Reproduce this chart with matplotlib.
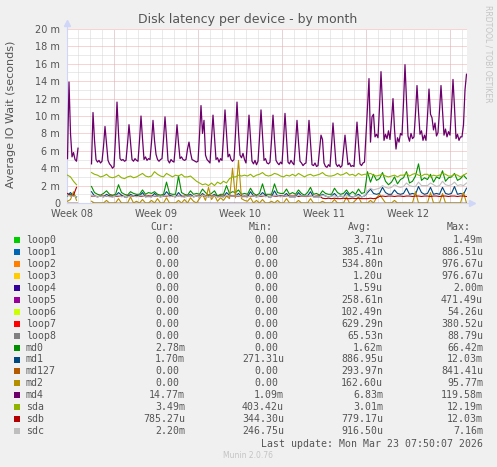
import numpy as np
import matplotlib.pyplot as plt
from matplotlib.patches import Rectangle

nan = np.nan

# time axis: days from Monday 00:00 of week 09
t_start = -3.875
step_md4 = 0.125   # 3 hour samples
step_dev = 0.25    # 6 hour samples

week_starts = [0, 7, 14, 21, 28]
week_mid = [-3.5, 3.5, 10.5, 17.5, 24.5]
week_labels = ["Week 08", "Week 09", "Week 10", "Week 11", "Week 12"]
y_ticks = [0, 2, 4, 6, 8, 10, 12, 14, 16, 18, 20]
y_labels = ["0", "2 m", "4 m", "6 m", "8 m", "10 m", "12 m", "14 m", "16 m", "18 m", "20 m"]

# values in milliseconds (axis shows m = 1e-3 s)
md4 = [
    5.1, 13.9, 8.0, 5.3, 5.8, 5.0, 4.8,
    6.3, nan, nan, nan, nan, nan, nan, nan,
    nan, 4.5, 10.4, 7.2, 5.0, 4.7, 4.9, 4.6,
    4.8, 6.5, 8.8, 6.8, 4.9, 4.5, 4.3, 4.0,
    4.2, 7.5, 11.6, 8.0, 5.1, 4.9, 5.0, 4.8,
    4.9, 6.8, 9.0, 7.0, 5.0, 4.8, 5.1, 4.9,
    4.8, 7.2, 10.0, 7.4, 5.0, 5.3, 4.9, 5.1,
    5.0, 7.0, 9.5, 7.2, 5.6, 5.0, 4.8, 5.0,
    5.1, 7.3, 9.9, 7.5, 4.9, 4.6, 5.0, 4.8,
    4.7, 6.7, 9.0, 6.9, 5.1, 5.3, 5.0, 4.9,
    5.0, 6.2, 7.0, 5.8, 5.0, 4.9, 4.8, 4.7,
    4.8, 7.8, 11.2, 8.0, 9.5, 5.5, 5.0, 4.8,
    4.6, 7.3, 10.1, 7.5, 5.0, 5.2, 4.7, 5.1,
    4.9, 7.6, 10.7, 7.9, 5.3, 5.6, 5.0, 4.8,
    5.0, 8.0, 11.6, 8.2, 5.5, 5.2, 5.7, 5.0,
    4.6, 7.2, 10.1, 7.4, 4.8, 4.5, 4.9, 4.4,
    4.8, 7.5, 10.7, 7.7, 4.9, 5.1, 4.6, 4.5,
    4.7, 7.2, 10.1, 7.3, 4.9, 4.6, 4.4, 4.7,
    4.5, 7.2, 10.3, 7.4, 4.7, 4.5, 4.9, 4.6,
    4.4, 6.8, 9.5, 7.0, 4.8, 4.6, 4.3, 4.5,
    4.6, 6.9, 9.5, 6.9, 4.4, 4.3, 4.6, 4.2,
    4.3, 6.0, 7.8, 7.3, 4.6, 4.2, 4.1, 4.4,
    4.2, 6.6, 9.2, 6.8, 4.5, 4.2, 4.4, 4.1,
    4.3, 6.0, 7.8, 6.1, 4.4, 4.6, 4.2, 4.3,
    4.2, 6.7, 9.3, 6.8, 4.5, 4.3, 4.6, 4.7,
    7.8, 11.0, 14.3, 7.0, 9.9, 10.2, 7.6, 7.9,
    7.5, 11.0, 15.1, 11.3, 7.2, 7.9, 7.4, 8.3,
    7.3, 9.5, 12.0, 8.5, 6.2, 7.5, 7.0, 8.0,
    7.8, 11.5, 15.9, 11.8, 7.7, 7.1, 8.0, 7.4,
    7.6, 10.3, 13.5, 10.5, 7.9, 8.3, 7.2, 7.8,
    7.2, 10.0, 13.1, 10.2, 9.8, 8.4, 9.2, 7.7,
    8.1, 10.6, 13.5, 10.7, 7.8, 8.5, 7.6, 8.2,
    7.8, 10.8, 14.2, 11.0, 7.4, 7.9, 7.2, 7.6,
    7.6, 9.0, 13.0, 14.8,
]

sda = [
    3.2, 3.0, 2.5, 2.1,  nan, nan, nan, nan,  3.5, 3.3, 3.2, 3.0,
    3.1, 3.3, 3.0, 2.9,  3.0, 3.2, 2.9, 2.8,  3.0, 3.1, 2.9, 3.0,
    3.2, 3.4, 3.1, 3.0,  3.1, 3.6, 3.3, 3.1,  3.0, 3.4, 3.2, 3.0,
    3.2, 3.1, 3.3, 3.0,  3.0, 3.1, 2.8, 2.5,  2.3, 2.1, 2.2, 2.0,
    2.3, 2.0, 2.4, 2.2,  2.5, 2.3, 2.8, 3.0,  3.0, 3.2, 3.1, 3.2,
    3.1, 3.3, 3.0, 3.2,  3.3, 3.5, 3.2, 3.1,  3.2, 3.4, 3.3, 3.1,
    3.0, 3.2, 3.1, 3.3,  3.1, 3.4, 3.2, 3.0,  3.2, 3.3, 3.1, 3.2,
    3.3, 3.5, 3.2, 3.1,  3.1, 3.2, 3.4, 3.2,  3.3, 3.5, 3.2, 3.3,
    3.1, 3.4, 3.2, 3.3,  3.3, 3.4, 3.2, 3.1,  3.2, 3.3, 3.1, 3.0,
    3.1, 3.2, 3.0, 3.2,  3.2, 3.4, 3.1, 3.3,  3.4, 3.2, 3.1, 3.3,
    3.3, 3.0, 3.2, 3.1,  3.2, 3.4, 3.3, 3.1,  3.1, 3.3, 3.2, 3.0,
    3.2, 3.4,
]

md0 = [
    0.8, 1.0, 0.9, 0.7,  nan, nan, nan, nan,  1.9, 1.2, 1.0, 0.9,
    1.1, 1.4, 1.0, 0.9,  1.0, 2.1, 1.2, 1.0,  0.9, 1.3, 1.1, 1.0,
    1.0, 1.5, 1.0, 1.2,  1.1, 1.3, 1.0, 0.9,  1.0, 2.4, 1.1, 1.0,
    1.0, 3.1, 1.2, 1.0,  0.9, 1.4, 1.0, 1.1,  1.0, 1.6, 1.2, 0.9,
    1.1, 1.4, 0.8, 1.0,  1.0, 2.0, 1.1, 1.3,  1.2, 1.5, 1.0, 1.1,
    1.0, 1.7, 1.1, 0.9,  1.1, 2.2, 1.0, 1.0,  1.0, 2.2, 1.2, 1.1,
    1.1, 1.6, 1.0, 1.2,  1.0, 1.5, 1.1, 0.9,  1.2, 1.8, 1.0, 1.1,
    0.9, 1.4, 1.1, 1.0,  1.0, 1.7, 1.2, 1.0,  1.1, 1.5, 1.0, 1.3,
    1.0, 1.6, 1.1, 1.2,  3.6, 2.4, 3.3, 2.6,  2.8, 3.5, 2.5, 2.1,
    2.4, 3.0, 2.2, 2.7,  2.9, 3.6, 2.3, 2.5,  3.1, 4.5, 2.6, 2.9,
    2.7, 3.3, 2.4, 3.0,  2.8, 3.7, 2.5, 2.9,  3.0, 3.4, 2.6, 2.8,
    3.2, 2.8,
]

md1 = [
    0.9, 1.2, 0.8, 0.7,  nan, nan, nan, nan,  1.3, 0.8, 0.7, 0.8,
    0.7, 1.0, 0.8, 0.7,  0.8, 1.2, 0.9, 0.7,  0.7, 1.0, 0.8, 0.9,
    0.8, 1.2, 0.7, 0.8,  0.7, 1.1, 0.8, 0.7,  0.8, 1.3, 0.9, 0.8,
    0.7, 1.2, 0.8, 0.7,  0.8, 1.0, 0.7, 0.8,  0.7, 1.1, 0.8, 0.7,
    0.8, 1.0, 0.7, 0.8,  0.7, 1.2, 0.9, 0.8,  0.8, 1.1, 0.7, 0.8,
    0.7, 1.3, 0.8, 0.7,  0.8, 1.2, 0.9, 0.7,  0.7, 1.4, 0.8, 0.8,
    0.8, 1.1, 0.7, 0.7,  0.7, 1.2, 0.8, 0.8,  0.8, 1.3, 0.7, 0.7,
    0.7, 1.0, 0.8, 0.7,  0.8, 1.1, 0.7, 0.8,  0.7, 1.2, 0.8, 0.7,
    0.8, 1.0, 0.7, 0.8,  1.2, 1.6, 1.1, 1.0,  1.1, 1.8, 1.2, 1.0,
    1.0, 1.5, 1.1, 1.0,  1.1, 1.7, 1.0, 1.1,  1.0, 1.9, 1.2, 1.0,
    1.1, 1.8, 1.0, 1.1,  1.0, 1.8, 1.1, 1.0,  1.1, 1.9, 1.0, 1.1,
    1.0, 1.7,
]

md2 = [
    0.2, 0.4, 1.3, 0.3,  nan, nan, nan, nan,  0.2, 0.0, 0.0, 0.0,
    0.0, 0.3, 0.0, 0.0,  0.0, 0.5, 0.0, 0.0,  0.0, 0.7, 0.0, 0.2,
    0.0, 0.4, 0.0, 0.0,  0.3, 0.0, 0.5, 0.0,  0.0, 0.6, 0.0, 0.0,
    0.0, 0.3, 0.0, 0.4,  0.0, 0.6, 0.2, 0.0,  0.5, 1.0, 0.3, 1.8,
    0.4, 0.9, 0.2, 0.6,  0.3, 0.8, 0.5, 4.0,  0.6, 4.9, 0.5, 0.3,
    0.2, 0.6, 0.0, 0.3,  0.0, 0.4, 0.0, 0.0,  0.2, 0.0, 0.3, 0.0,
    0.0, 0.5, 0.0, 0.0,  0.0, 0.3, 0.0, 0.0,  0.0, 0.5, 0.0, 0.0,
    0.0, 0.2, 0.0, 0.0,  0.0, 0.4, 0.0, 0.0,  0.0, 0.7, 0.0, 0.0,
    0.3, 0.7, 0.0, 0.0,  0.0, 0.3, 0.0, 0.6,  1.0, 0.5, 0.0, 0.0,
    0.0, 0.3, 0.0, 0.0,  0.0, 0.0, 0.0, 0.0,  1.3, 0.0, 0.0, 0.0,
    0.0, 1.2, 0.0, 0.0,  0.0, 1.1, 0.0, 0.0,  0.0, 0.0, 0.0, 0.0,
    1.2, 0.0,
]

sdb = [
    1.1, 0.8, 0.9, 1.8,  nan, nan, nan, nan,  0.8, 0.8, 0.75, 0.8,
    0.8, 0.75, 0.8, 0.8,  0.75, 0.8, 0.8, 0.75,  0.8, 0.8, 0.75, 0.8,
    0.75, 0.8, 0.8, 0.8,  0.8, 0.75, 0.8, 0.75,  0.8, 0.8, 0.8, 0.75,
    0.75, 0.8, 0.75, 0.8,  0.8, 0.8, 0.75, 0.8,  0.8, 0.85, 0.8, 0.8,
    0.8, 0.8, 0.75, 0.8,  0.8, 0.85, 0.8, 0.8,  0.8, 0.8, 0.8, 0.75,
    0.8, 0.75, 0.8, 0.8,  0.75, 0.8, 0.8, 0.75,  0.8, 0.8, 0.75, 0.8,
    0.75, 0.8, 0.8, 0.8,  0.8, 0.75, 0.8, 0.75,  0.75, 0.8, 0.75, 0.8,
    0.8, 0.55, 0.5, 0.55,  0.5, 0.55, 0.5, 0.5,  0.55, 0.5, 0.5, 0.55,
    0.5, 0.55, 0.5, 0.5,  0.5, 0.55, 0.5, 0.55,  0.75, 0.8, 0.75, 0.8,
    0.8, 0.75, 0.8, 0.8,  0.75, 0.8, 0.8, 0.75,  0.8, 0.8, 0.75, 0.8,
    0.8, 0.75, 0.8, 0.8,  0.75, 0.8, 0.8, 0.75,  0.8, 0.8, 0.75, 0.8,
    0.8, 0.75,
]

sdc = [
    0.9, 0.8, 0.8, 0.7,  nan, nan, nan, nan,  0.9, 0.8, 0.7, 0.8,
    0.7, 0.8, 0.7, 0.7,  0.8, 0.9, 0.7, 0.8,  0.7, 0.8, 0.8, 0.7,
    0.8, 0.9, 0.7, 0.7,  0.7, 0.8, 0.8, 0.7,  0.8, 0.9, 0.7, 0.8,
    0.7, 0.8, 0.7, 0.7,  0.8, 0.8, 0.7, 0.8,  0.7, 0.9, 0.8, 0.7,
    0.8, 0.8, 0.7, 0.7,  0.7, 0.9, 0.8, 0.8,  0.8, 0.9, 0.7, 0.7,
    0.7, 0.8, 0.8, 0.7,  0.8, 0.9, 0.7, 0.8,  0.7, 0.9, 0.8, 0.7,
    0.8, 0.8, 0.7, 0.7,  0.7, 0.9, 0.8, 0.8,  0.8, 0.8, 0.7, 0.7,
    0.7, 0.9, 0.8, 0.7,  0.8, 0.8, 0.7, 0.8,  0.7, 0.9, 0.7, 0.7,
    0.8, 0.8, 0.7, 0.8,  1.4, 1.7, 1.5, 1.6,  1.7, 2.0, 1.8, 1.7,
    1.8, 2.1, 1.9, 1.8,  1.9, 2.3, 2.0, 1.9,  1.9, 2.4, 2.0, 2.0,
    2.0, 2.3, 2.1, 1.9,  2.0, 2.5, 2.1, 2.0,  2.1, 2.4, 2.0, 2.1,
    2.0, 2.3,
]

flat = [0.0] * len(sda)

# legend table
names = ["loop0", "loop1", "loop2", "loop3", "loop4", "loop5", "loop6", "loop7",
         "loop8", "md0", "md1", "md127", "md2", "md4", "sda", "sdb", "sdc"]
colors = ["#00CC00", "#0066B3", "#FF8000", "#FFCC00", "#330099", "#990099",
          "#CCFF00", "#FF0000", "#808080", "#008F00", "#00487D", "#B35A00",
          "#B38F00", "#6B006B", "#8FB300", "#B30000", "#BEBEBE"]
cur = ["0.00", "0.00", "0.00", "0.00", "0.00", "0.00", "0.00", "0.00", "0.00",
       "2.78m", "1.70m", "0.00", "0.00", "14.77m", "3.49m", "785.27u", "2.20m"]
vmin = ["0.00", "0.00", "0.00", "0.00", "0.00", "0.00", "0.00", "0.00", "0.00",
        "0.00", "271.31u", "0.00", "0.00", "1.09m", "403.42u", "344.30u", "246.75u"]
avg = ["3.71u", "385.41n", "534.80n", "1.20u", "1.59u", "258.61n", "102.49n",
       "629.29n", "65.53n", "1.62m", "886.95u", "293.97n", "162.60u", "6.83m",
       "3.01m", "779.17u", "916.50u"]
vmax = ["1.49m", "886.51u", "976.67u", "976.67u", "2.00m", "471.49u", "54.26u",
        "380.52u", "88.79u", "66.42m", "12.03m", "841.41u", "95.77m", "119.58m",
        "12.19m", "12.03m", "7.16m"]

series = {"md0": md0, "md1": md1, "md2": md2, "sda": sda, "sdb": sdb, "sdc": sdc}

W, H = 497, 467
fg = '#555555'
axis_col = '#CFD6F8'
fig = plt.figure(figsize=(W / 100, H / 100), dpi=100, facecolor='#F0F0F0')
ax = fig.add_axes([67 / W, 1 - 203 / H, 400 / W, 174 / H])
ax.set_facecolor('white')

t_dev = t_start + step_dev * np.arange(len(sda))
t_md4 = t_start + step_md4 * np.arange(len(md4))

for name, col in zip(names, colors):
    if name == "md4":
        ax.plot(t_md4, md4, color=col, lw=0.9, zorder=3)
    elif name in series:
        ax.plot(t_dev, series[name], color=col, lw=0.8, zorder=3)
    else:
        vals = np.array(flat)
        vals[4:8] = nan
        ax.plot(t_dev, vals, color=col, lw=0.8, zorder=3)

ax.set_xlim(-3.917, 29.417)
ax.set_ylim(0, 20)

# grid: gray every day / 1m, red every week / 2m
ax.set_xticks(week_mid, week_labels)
ax.set_xticks(np.arange(-3, 30), minor=True)
ax.set_yticks(y_ticks, y_labels)
ax.set_yticks(np.arange(1, 20, 2), minor=True)
ax.grid(which='minor', color='#D6D6D6', lw=0.72, ls=(0, (1, 1)), zorder=0)
ax.grid(which='major', axis='y', color='#F0A8A8', lw=0.72, ls=(0, (1, 1)), zorder=1)
for w in week_starts:
    ax.axvline(w, color='#F0A8A8', lw=0.72, ls=(0, (1, 1)), zorder=1)
ax.tick_params(which='both', length=0, labelsize=7, labelcolor=fg)
ax.tick_params(axis='x', pad=4)
ax.tick_params(axis='y', pad=5)

for s in ['top', 'right']:
    ax.spines[s].set_visible(False)
for s in ['left', 'bottom']:
    ax.spines[s].set_color(axis_col)
    ax.spines[s].set_linewidth(0.8)
ax.plot([0, 0], [1, 1.035], transform=ax.transAxes, color=axis_col, lw=0.8, clip_on=False)
ax.plot([0], [1.035], marker='^', ms=4, color=axis_col, transform=ax.transAxes, clip_on=False)
ax.plot([1, 1.01], [0, 0], transform=ax.transAxes, color=axis_col, lw=0.8, clip_on=False)
ax.plot([1.012], [0], marker='>', ms=4, color=axis_col, transform=ax.transAxes, clip_on=False)


def px(x, y):
    return x / W, 1 - y / H


fig.text(*px(248, 19), "Disk latency per device - by month", fontsize=9, color=fg,
         ha='center', va='center')
fig.text(*px(11, 114), "Average IO Wait (seconds)", fontsize=8, color=fg,
         rotation=90, ha='center', va='center')
fig.text(*px(488, 54), "RRDTOOL / TOBI OETIKER", fontsize=5.5, color='#C4C4C4',
         rotation=270, ha='center', va='center')

mono = 'DejaVu Sans Mono'
lfs = 7.1
cw = 5.95
for x, lab in zip([174, 273, 372, 471], ["Cur:", "Min:", "Avg:", "Max:"]):
    fig.text(*px(x, 227), lab, family=mono, fontsize=lfs, color=fg, ha='right', va='center')

col_right = [185, 284, 383, 483]
for i, name in enumerate(names):
    y = 240 + 11.95 * i
    fig.patches.append(Rectangle(px(14, y + 3), 6 / W, 6 / H, transform=fig.transFigure,
                                 facecolor=colors[i], edgecolor='none'))
    fig.text(*px(26, y), name, family=mono, fontsize=lfs, color=fg, ha='left', va='center')
    for xr, val in zip(col_right, [cur[i], vmin[i], avg[i], vmax[i]]):
        if val[-1].isdigit():
            xr -= cw
        fig.text(*px(xr, y), val, family=mono, fontsize=lfs, color=fg, ha='right', va='center')

fig.text(*px(483, 444), "Last update: Mon Mar 23 07:50:07 2026", family=mono, fontsize=lfs,
         color=fg, ha='right', va='center')
fig.text(*px(248, 456), "Munin 2.0.76", fontsize=5.5, color='#C4C4C4', ha='center', va='center')

fig.savefig('out.png', dpi=100, facecolor=fig.get_facecolor())
